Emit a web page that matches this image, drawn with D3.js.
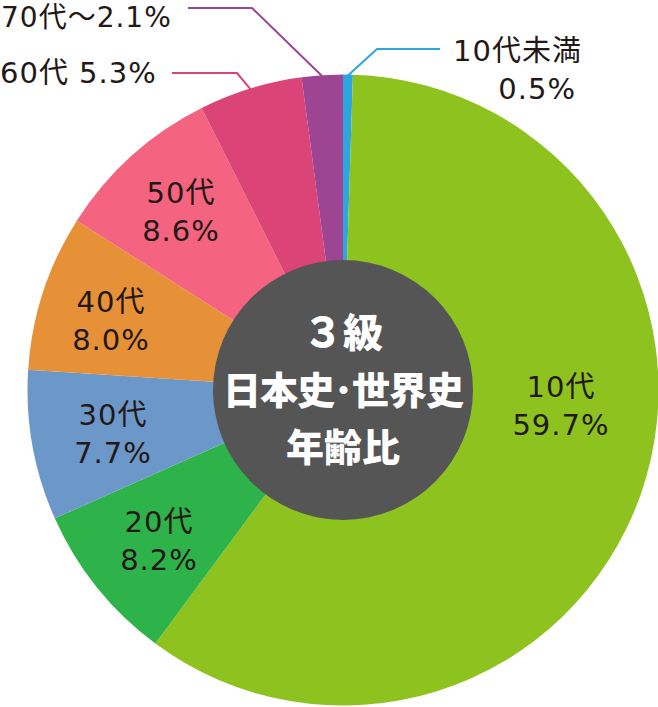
<!DOCTYPE html>
<html><head><meta charset="utf-8">
<script src="https://cdn.jsdelivr.net/npm/d3@7"></script>
<style>html,body{margin:0;padding:0;background:#fff;}svg{display:block;}</style>
</head><body>
<svg id="c" width="658" height="707"></svg>
<script>
// ---- data ----
const categories = ["10代未満", "10代", "20代", "30代", "40代", "50代", "60代", "70代～"];
const values     = [0.5, 59.7, 8.2, 7.7, 8.0, 8.6, 5.3, 2.1];
const colors     = ["#2CA6E0", "#8DC21F", "#2EB24A", "#6B97C9", "#E69138", "#F4637F", "#DB4477", "#9D4493"];
const centerTitle = ["３級", "日本史･世界史", "年齢比"];

// ---- layout ----
const W = 658, H = 707;
const cx = 343, cy = 390, R = 315.5, holeR = 130;
const labelFont = "'DejaVu Sans','Noto Sans CJK JP',sans-serif";
const inside = { // index -> [x, baseline]
  1: [561, 397], 2: [159, 532], 3: [113, 425], 4: [111, 312], 5: [181, 203]
};
const outside = { // leader: elbow and end, text placement
  7: {elbow: [252, 8], end: [188, 8], lines: [{t: d => d.cat + d.val + "%", x: 1, y: 27, a: "start", fs: 28}]},
  6: {elbow: [237, 73], end: [172, 73], lines: [{t: d => d.cat + " " + d.val + "%", x: 0, y: 83, a: "start", fs: 29}]},
  0: {elbow: [377, 49], end: [440, 49], lines: [{t: d => d.cat, x: 453, y: 61, a: "start", fs: 29}, {t: d => d.val + "%", x: 576, y: 99, a: "end", fs: 29}]}
};

const svg = d3.select("#c");
const g = svg.append("g").attr("transform", `translate(${cx},${cy})`);

const pie = d3.pie().sort(null).value(d => d)(values);
const arc = d3.arc().innerRadius(0).outerRadius(R);
const edge = d3.arc().innerRadius(R - 1).outerRadius(R - 1);

g.selectAll("path.slice").data(pie).join("path")
  .attr("class", "slice")
  .attr("d", arc)
  .attr("fill", (d, i) => colors[i]);

// leader lines
Object.entries(outside).forEach(([k, o]) => {
  const i = +k;
  const p = edge.centroid(pie[i]);
  const pts = [[p[0] + cx, p[1] + cy], o.elbow, o.end];
  svg.append("path")
    .attr("d", d3.line()(pts))
    .attr("fill", "none")
    .attr("stroke", colors[i])
    .attr("stroke-width", 2);
  o.lines.forEach(l => {
    svg.append("text")
      .attr("x", l.x).attr("y", l.y)
      .attr("text-anchor", l.a)
      .attr("font-family", labelFont)
      .attr("font-size", l.fs)
      .attr("letter-spacing", 1)
      .attr("fill", "#231815")
      .text(l.t({cat: categories[i], val: values[i].toFixed(1)}));
  });
});

// center circle
g.append("circle").attr("r", holeR).attr("fill", "#555555");

// inside labels
Object.entries(inside).forEach(([k, pos]) => {
  const i = +k;
  const t = svg.append("text")
    .attr("text-anchor", "middle")
    .attr("font-family", labelFont)
    .attr("font-size", 29)
    .attr("letter-spacing", 1)
    .attr("fill", "#231815");
  t.append("tspan").attr("x", pos[0]).attr("y", pos[1]).text(categories[i]);
  t.append("tspan").attr("x", pos[0]).attr("y", pos[1] + 38).text(values[i].toFixed(1) + "%");
});

// center title
const ct = g.append("text")
  .attr("text-anchor", "middle")
  .attr("font-family", "'Noto Sans CJK JP',sans-serif")
  .attr("font-weight", 900)
  .attr("font-size", 38)
  .attr("fill", "#ffffff");
centerTitle.forEach((s, j) => {
  const tsp = ct.append("tspan").attr("x", 0).attr("y", -43 + j * 57).text(s);
  if (j === 1) tsp.attr("letter-spacing", -1);
  if (j === 0) tsp.attr("font-size", 40);
});
</script>
</body></html>
